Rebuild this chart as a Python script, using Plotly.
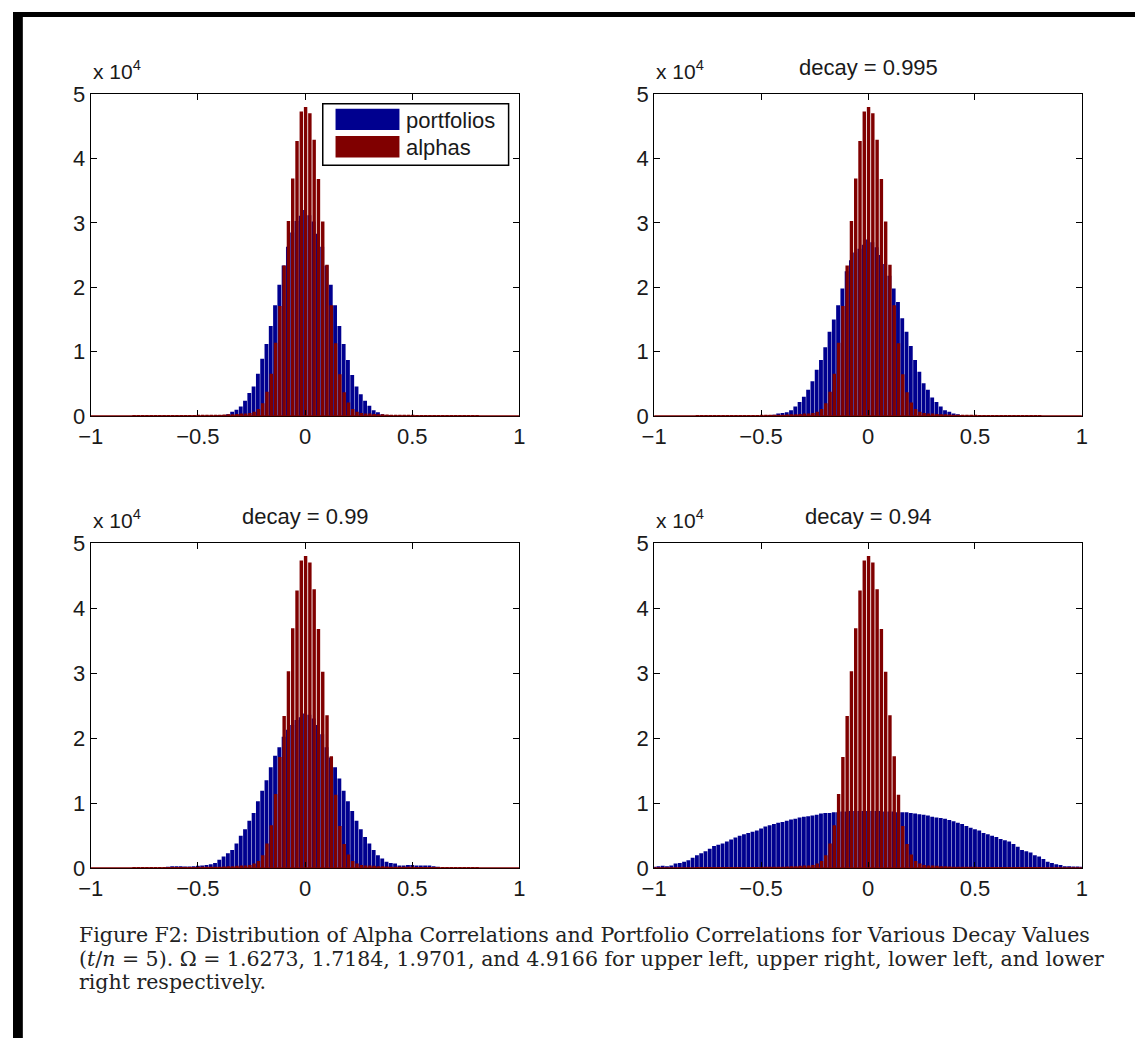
import plotly.graph_objects as go

# ---------------- data (counts in units of 10^4) ----------------
bin_centers = [round(-1 + 0.02 * i, 2) for i in range(101)]

alphas = [
    0, 0, 0, 0, 0, 0, 0, 0, 0, 0,
    0.005, 0.005, 0.005, 0.005, 0.005, 0.01, 0.01, 0.01, 0.01, 0.01,
    0.015, 0.015, 0.015, 0.015, 0.015, 0.02, 0.02, 0.02, 0.02, 0.02,
    0.02, 0.025, 0.03, 0.03, 0.035, 0.04, 0.04, 0.05, 0.07, 0.11,
    0.20, 0.38, 0.66, 1.14, 1.71, 2.34, 3.03, 3.69, 4.27, 4.73,
    4.80,
    4.70, 4.29, 3.68, 3.02, 2.35, 1.72, 1.13, 0.65, 0.37, 0.21,
    0.11, 0.07, 0.05, 0.04, 0.04, 0.035, 0.03, 0.03, 0.025, 0.02,
    0.02, 0.02, 0.02, 0.02, 0.02, 0.015, 0.015, 0.015, 0.015, 0.015,
    0.01, 0.01, 0.01, 0.01, 0.01, 0.005, 0.005, 0.005, 0.005, 0.005,
    0, 0, 0, 0, 0, 0, 0, 0, 0, 0,
]

portfolios_base = [
    0, 0, 0, 0, 0, 0, 0, 0, 0, 0,
    0, 0, 0, 0, 0, 0, 0, 0, 0, 0,
    0, 0, 0, 0, 0, 0, 0, 0, 0, 0,
    0.005, 0.01, 0.03, 0.07, 0.10, 0.15, 0.24, 0.36, 0.46, 0.66,
    0.89, 1.12, 1.40, 1.72, 2.04, 2.34, 2.63, 2.85, 3.03, 3.11,
    3.20,
    3.12, 3.02, 2.83, 2.63, 2.34, 2.04, 1.72, 1.40, 1.12, 0.87,
    0.64, 0.46, 0.34, 0.24, 0.16, 0.09, 0.06, 0.03, 0.01, 0.005,
    0, 0, 0, 0, 0, 0, 0, 0, 0, 0,
    0, 0, 0, 0, 0, 0, 0, 0, 0, 0,
    0, 0, 0, 0, 0, 0, 0, 0, 0, 0,
]

portfolios_0995 = [
    0, 0, 0, 0, 0, 0, 0, 0, 0, 0,
    0, 0, 0, 0, 0, 0, 0, 0, 0, 0,
    0, 0, 0, 0, 0, 0, 0, 0.01, 0.02, 0.04,
    0.05, 0.06, 0.09, 0.15, 0.22, 0.30, 0.41, 0.54, 0.72, 0.87,
    1.07, 1.31, 1.50, 1.72, 1.98, 2.25, 2.42, 2.54, 2.60, 2.66,
    2.74,
    2.70, 2.62, 2.50, 2.36, 2.18, 1.98, 1.77, 1.52, 1.31, 1.09,
    0.87, 0.69, 0.51, 0.41, 0.29, 0.22, 0.15, 0.09, 0.07, 0.04,
    0.03, 0.01, 0, 0, 0, 0, 0, 0, 0, 0,
    0, 0, 0, 0, 0, 0, 0, 0, 0, 0,
    0, 0, 0, 0, 0, 0, 0, 0, 0, 0,
]

portfolios_099 = [
    0, 0, 0, 0, 0, 0, 0, 0, 0, 0,
    0, 0, 0, 0, 0, 0, 0, 0, 0.02, 0.03,
    0.03, 0.03, 0.025, 0.025, 0.03, 0.035, 0.04, 0.05, 0.06, 0.08,
    0.13, 0.18, 0.23, 0.28, 0.38, 0.50, 0.60, 0.73, 0.85, 1.03,
    1.19, 1.35, 1.55, 1.73, 1.86, 2.02, 2.13, 2.20, 2.28, 2.32,
    2.38,
    2.36, 2.30, 2.20, 2.06, 1.86, 1.70, 1.55, 1.38, 1.19, 1.03,
    0.88, 0.73, 0.60, 0.48, 0.38, 0.28, 0.20, 0.15, 0.10, 0.08,
    0.07, 0.04, 0.04, 0.05, 0.05, 0.04, 0.04, 0.04, 0.04, 0.03,
    0.02, 0, 0, 0, 0, 0, 0, 0, 0, 0,
    0, 0, 0, 0, 0, 0, 0, 0, 0, 0,
]

portfolios_094 = [
    0.02, 0.03, 0.035, 0.03, 0.04, 0.07, 0.08, 0.10, 0.12, 0.16,
    0.20, 0.23, 0.26, 0.30, 0.34, 0.36, 0.38, 0.41, 0.44, 0.47,
    0.50, 0.52, 0.54, 0.56, 0.58, 0.61, 0.64, 0.66, 0.68, 0.70,
    0.71, 0.73, 0.75, 0.76, 0.78, 0.79, 0.80, 0.81, 0.82, 0.84,
    0.85, 0.85, 0.86, 0.86, 0.87, 0.87, 0.88, 0.88, 0.88, 0.88,
    0.88,
    0.88, 0.88, 0.88, 0.87, 0.87, 0.87, 0.86, 0.86, 0.86, 0.85,
    0.84, 0.83, 0.82, 0.81, 0.79, 0.78, 0.77, 0.76, 0.74, 0.72,
    0.70, 0.68, 0.65, 0.62, 0.60, 0.58, 0.54, 0.52, 0.50, 0.48,
    0.45, 0.43, 0.41, 0.37, 0.33, 0.28, 0.26, 0.24, 0.20, 0.18,
    0.14, 0.10, 0.08, 0.06, 0.05, 0.03, 0.03, 0.025, 0.025, 0.02,
]

panel_titles = ["", "decay = 0.995", "decay = 0.99", "decay = 0.94"]
panel_portfolios = [portfolios_base, portfolios_0995, portfolios_099, portfolios_094]
series_names = ["portfolios", "alphas"]

x_tickvals = [-1, -0.5, 0, 0.5, 1]
x_ticktext = ["\u22121", "\u22120.5", "0", "0.5", "1"]
y_tickvals = [0, 1, 2, 3, 4, 5]
y_ticktext = ["0", "1", "2", "3", "4", "5"]

caption_lines = [
    "Figure F2: Distribution of Alpha Correlations and Portfolio Correlations for Various Decay Values",
    "(<i>t</i>/<i>n</i> = 5). \u03a9 = 1.6273, 1.7184, 1.9701, and 4.9166 for upper left, upper right, lower left, and lower",
    "right respectively.",
]

# ---------------- style ----------------
W, H = 1141, 1051
BLUE = "#00008F"
RED = "#800000"
FONT = "Liberation Sans, Arial, sans-serif"
TXT = "#1a1a1a"
FS = 22


def px(x):
    return x / W


def py(y):
    return 1 - y / H


# plot-area pixel boxes (left, right, top, bottom)
boxes = [(79, 515, 84, 414), (652, 1087, 84, 414), (79, 515, 544, 877), (652, 1087, 544, 877)]

fig = go.Figure()
layout = dict(
    width=W, height=H,
    margin=dict(l=0, r=0, t=0, b=0),
    paper_bgcolor="white", plot_bgcolor="white",
    barmode="overlay", showlegend=False,
    font=dict(family=FONT, size=FS, color=TXT),
)

annotations = []
shapes = []

for p in range(4):
    n = "" if p == 0 else str(p + 1)
    xa, ya = "x" + n, "y" + n
    l, r, t, b = boxes[p]
    fig.add_trace(go.Bar(
        x=bin_centers, y=panel_portfolios[p], width=0.018,
        marker=dict(color=BLUE, line=dict(width=0)),
        name=series_names[0], xaxis=xa, yaxis=ya))
    fig.add_trace(go.Bar(
        x=bin_centers, y=alphas, width=0.016, offset=-0.0055,
        marker=dict(color=RED, line=dict(width=0)),
        name=series_names[1], xaxis=xa, yaxis=ya))
    axis_common = dict(showgrid=False, zeroline=False, showline=True, linecolor="black",
                       linewidth=1, mirror="ticks", ticks="inside", ticklen=6,
                       tickcolor="black", tickfont=dict(family=FONT, size=FS, color=TXT))
    layout["xaxis" + n] = dict(axis_common, domain=[px(l), px(r)], range=[-1, 1],
                               tickvals=x_tickvals, ticktext=x_ticktext, anchor=ya)
    layout["yaxis" + n] = dict(axis_common, domain=[py(b), py(t)], range=[0, 5],
                               tickvals=y_tickvals, ticktext=y_ticktext, anchor=xa)
    shapes.append(dict(type="line", xref=xa, yref=ya, x0=-1, x1=1, y0=0, y1=0,
                       line=dict(color=RED, width=2), layer="above"))
    annotations.append(dict(xref="paper", yref="paper", x=px(l), y=py(t - 9),
                            xanchor="left", yanchor="bottom", showarrow=False,
                            text="x 10<sup>4</sup>", font=dict(family=FONT, size=FS - 1, color=TXT)))
    if panel_titles[p]:
        annotations.append(dict(xref="paper", yref="paper", x=px((l + r) / 2), y=py(t - 12),
                                xanchor="center", yanchor="bottom", showarrow=False,
                                text=panel_titles[p], font=dict(family=FONT, size=FS, color=TXT)))

# legend (top-left panel)
shapes.append(dict(type="rect", xref="paper", yref="paper", x0=px(315), x1=px(504),
                   y0=py(157), y1=py(94), line=dict(color="black", width=1.5), fillcolor="white"))
shapes.append(dict(type="rect", xref="paper", yref="paper", x0=px(328), x1=px(393),
                   y0=py(121), y1=py(99), line=dict(width=0), fillcolor=BLUE))
shapes.append(dict(type="rect", xref="paper", yref="paper", x0=px(328), x1=px(393),
                   y0=py(149), y1=py(127), line=dict(width=0), fillcolor=RED))
annotations.append(dict(xref="paper", yref="paper", x=px(398), y=py(111), xanchor="left",
                        yanchor="middle", showarrow=False, text=series_names[0],
                        font=dict(family=FONT, size=FS, color=TXT)))
annotations.append(dict(xref="paper", yref="paper", x=px(398), y=py(139), xanchor="left",
                        yanchor="middle", showarrow=False, text=series_names[1],
                        font=dict(family=FONT, size=FS, color=TXT)))

# caption
for i, line in enumerate(caption_lines):
    annotations.append(dict(xref="paper", yref="paper", x=px(65), y=py(946 + 24 * i),
                            xanchor="left", yanchor="middle", showarrow=False, text=line,
                            font=dict(family="DejaVu Serif, serif", size=20.5, color="#222")))

# black frame on the top and left edges
shapes.append(dict(type="rect", xref="paper", yref="paper", x0=0, x1=1, y0=py(5), y1=1,
                   line=dict(width=0), fillcolor="black", layer="above"))
shapes.append(dict(type="rect", xref="paper", yref="paper", x0=0, x1=px(10), y0=0, y1=1,
                   line=dict(width=0), fillcolor="black", layer="above"))

layout["annotations"] = annotations
layout["shapes"] = shapes
fig.update_layout(**layout)

pin_script = (
    "document.documentElement.style.margin='0';document.documentElement.style.padding='0';"
    "document.documentElement.style.overflow='hidden';"
    "document.body.style.margin='0';document.body.style.padding='0';document.body.style.overflow='hidden';"
    "var g=document.querySelector('.plotly-graph-div');"
    "if(g){g.style.position='fixed';g.style.left='0px';g.style.top='0px';g.style.margin='0';}"
)
fig.write_html("out.html", config={"displayModeBar": False}, post_script=pin_script)
